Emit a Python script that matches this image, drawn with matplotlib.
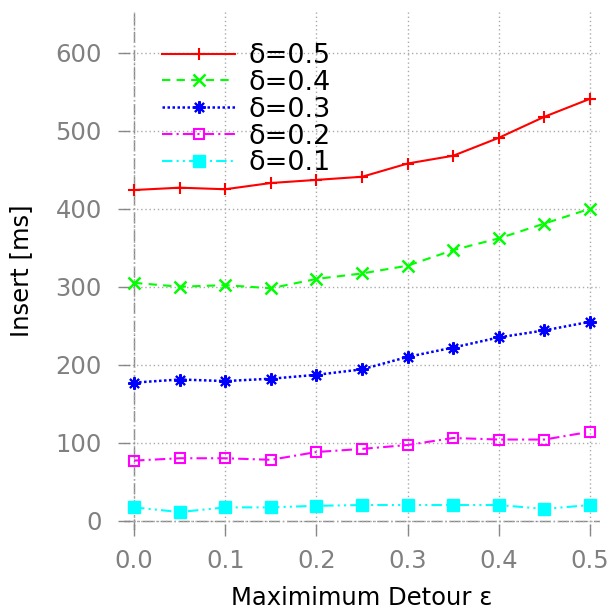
import matplotlib
matplotlib.use("Agg")
import matplotlib.pyplot as plt

# valeurs
epsilon = [0.0, 0.05, 0.1, 0.15, 0.2, 0.25, 0.3, 0.35, 0.4, 0.45, 0.5]
delta_05 = [424, 427, 425, 433, 437, 441, 458, 468, 491, 518, 541]
delta_04 = [305, 300, 302, 298, 310, 317, 327, 347, 362, 381, 400]
delta_03 = [177, 181, 179, 182, 187, 194, 210, 222, 235, 244, 255]
delta_02 = [77, 80, 80, 78, 88, 92, 97, 106, 104, 104, 114]
delta_01 = [17, 11, 17, 17, 19, 20, 20, 20, 20, 15, 20]

labels = ["δ=0.5", "δ=0.4", "δ=0.3", "δ=0.2", "δ=0.1"]
xticks = [0.0, 0.1, 0.2, 0.3, 0.4, 0.5]
yticks = [0, 100, 200, 300, 400, 500, 600]

fig = plt.figure(figsize=(6.08, 6.12), dpi=100)
ax = fig.add_axes([0.204, 0.134, 0.783, 0.846])

ax.plot(epsilon, delta_05, color="#ff0000", ls="-", lw=1.5, marker="+", ms=9, mew=1.5, label=labels[0])
ax.plot(epsilon, delta_04, color="#00ff00", ls=(0, (4, 3)), lw=1.5, marker="x", ms=8, mew=1.8, label=labels[1])
ax.plot(epsilon, delta_03, color="#0000ff", ls=(0, (1, 1)), lw=1.8, marker=(8, 2, 0), ms=9, mew=1.5, label=labels[2])
ax.plot(epsilon, delta_02, color="#ff00ff", ls=(0, (5, 2, 1, 2)), lw=1.5, marker="s", ms=7.5, mfc="none", mew=1.5, label=labels[3])
ax.plot(epsilon, delta_01, color="#00ffff", ls=(0, (5, 2, 1, 2, 1, 2)), lw=1.5, marker="s", ms=9, label=labels[4])

ax.set_xlim(-0.011, 0.511)
ax.set_ylim(-12, 652)
ax.set_xticks(xticks)
ax.set_xticklabels(["%.1f" % v for v in xticks])
ax.set_yticks(yticks)

for s in ax.spines.values():
    s.set_visible(False)
ax.axhline(0, color="#888888", ls=(0, (8, 2, 1, 2)), lw=1, zorder=1)
ax.axvline(0, color="#888888", ls=(0, (8, 2, 1, 2)), lw=1, zorder=1)
ax.grid(True, color="#aaaaaa", ls=(0, (1, 2)), lw=1)

ax.tick_params(direction="inout", length=8, width=1, color="#888888",
               labelcolor="#808080", labelsize=17.5)
ax.tick_params(axis="x", pad=10)
ax.tick_params(axis="y", pad=12)

ax.set_xlabel("Maximimum Detour ε", fontsize=17.5, labelpad=9)
ax.set_ylabel("Insert [ms]", fontsize=17.5, labelpad=16)

ax.legend(loc="upper left", bbox_to_anchor=(0.04, 0.977), frameon=False, fontsize=19.5,
          handlelength=2.7, numpoints=1, labelspacing=0.03, handletextpad=0.5,
          borderaxespad=0.3)

fig.savefig("out.png", dpi=100)
